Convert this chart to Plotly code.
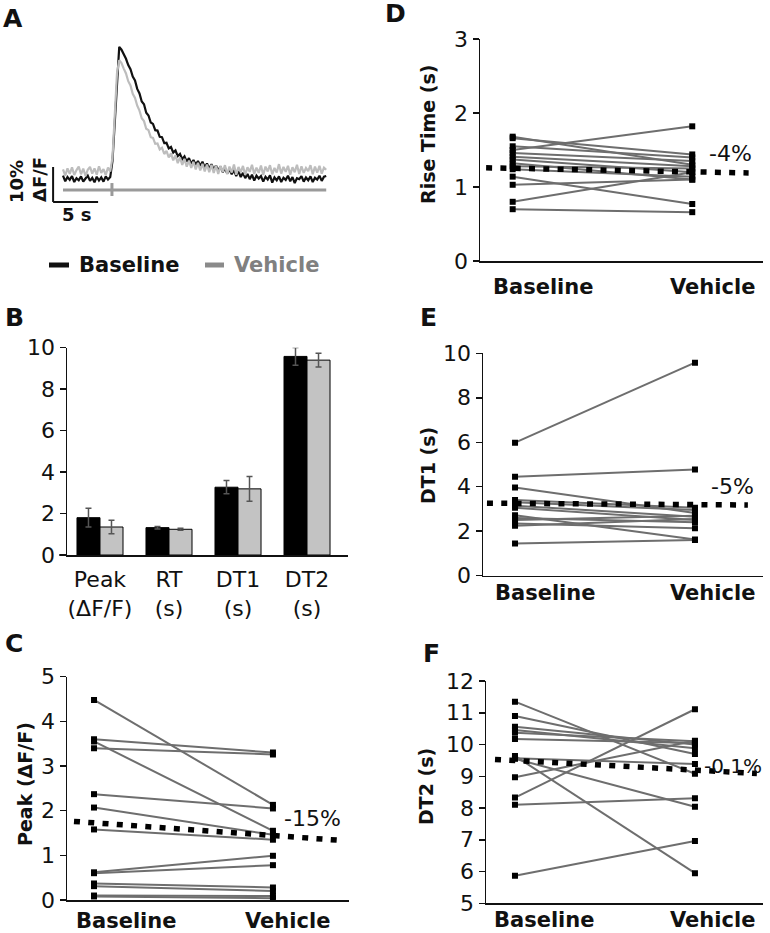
import numpy as np
import plotly.graph_objects as go

W, H = 770, 933
FONT = "DejaVu Sans"
INK = "#111111"

# ---------------- Panel A : example transients (% dF/F, sampled every 0.25 s) -------------
trace_dt = 0.25
baseline_trace = [-0.2, -1.8, -0.6, -1.4, -0.3, -2.0, -0.9, -1.5, -0.4, -1.9, -1.0, -0.2, -1.7, -0.8,
                  -2.1, -0.5, -1.6, -0.7, -1.9, -0.4, -1.3, -0.6,
                  4.0, 15.0, 28.0, 36.6, 35.8, 34.6, 33.2, 31.4, 30.2, 28.1, 27.0, 24.6, 23.3, 21.0,
                  20.2, 17.8, 17.0, 15.0, 14.6, 12.8, 12.7, 10.9, 10.8, 9.1, 9.2, 7.6, 8.0, 6.4,
                  7.0, 5.4, 6.0, 4.5, 5.3, 3.8, 4.8, 3.2, 4.3, 2.9, 4.0, 2.6, 3.8, 2.2, 3.3, 1.8,
                  3.1, 1.5, 2.7, 1.3, 2.4, 0.8, 2.0, 0.4, 1.6, 0.2, 1.4, -0.3, 1.1, -0.6, 0.6, -0.9,
                  0.3, -1.2, 0.1, -1.6, -0.2, -1.0, -0.3, -1.9, -0.5, -1.3, -0.1, -2.2, -0.7, -1.5,
                  -0.4, -2.0, -0.8, -1.4, -0.2, -1.8, -0.6, -2.3, -0.9, -1.2, -0.3, -1.9, -0.7, -1.5,
                  -0.4, -2.0, -0.8, -1.3, -0.2, -1.7, -0.5, -0.3]
vehicle_trace = [1.6, -0.2, 1.9, 0.3, 2.2, 0.0, 1.4, 2.4, 0.2, 1.8, -0.3, 1.5, 2.3, 0.4, 1.9, 0.1,
                 2.5, 0.6, 1.7, 0.0, 2.1, 1.0,
                 5.0, 17.0, 29.0, 32.8, 32.0, 30.4, 29.0, 26.8, 25.6, 23.2, 22.0, 19.8, 18.4, 16.2,
                 15.4, 13.2, 12.8, 10.8, 10.6, 8.9, 9.0, 7.3, 7.8, 6.0, 6.9, 5.0, 6.2, 4.2, 5.6,
                 3.4, 5.0, 2.9, 4.6, 2.4, 4.1, 2.0, 3.8, 1.6, 3.5, 1.3, 3.2, 1.0, 3.0, 0.8, 2.9,
                 0.6, 2.7, 0.3, 2.6, 0.9, 2.8, 0.2, 2.4, 0.7, 3.0, 0.1, 2.3, 0.8, 2.6, 0.0, 2.2,
                 0.9, 2.9, 0.3, 2.1, 0.6, 2.7, 0.0, 2.4, 1.0, 2.8, 0.2, 2.0, 0.7, 3.1, 0.4, 2.3,
                 0.9, 2.6, 0.1, 2.2, 0.8, 2.9, 0.3, 2.5, 0.6, 2.0, 1.1, 2.8, 0.2, 2.4, 0.7, 2.6,
                 0.4, 2.1, 1.5]
stim_time = 5.44
scale_pct = 10
scale_sec = 5

# ---------------- Panel B : means +/- SEM -------------
categories = ["Peak<br>(ΔF/F)", "RT<br>(s)", "DT1<br>(s)", "DT2<br>(s)"]
bar_baseline = [1.80, 1.32, 3.27, 9.58]
bar_baseline_err = [0.45, 0.06, 0.32, 0.43]
bar_vehicle = [1.35, 1.24, 3.19, 9.40]
bar_vehicle_err = [0.33, 0.05, 0.60, 0.33]

# ---------------- Panels C-F : paired values -------------
conditions = ["Baseline", "Vehicle"]
peak_base = [4.48, 3.60, 3.40, 3.55, 2.37, 2.07, 1.58, 0.62, 0.60, 0.37, 0.31, 0.10, 0.08]
peak_veh = [2.13, 3.30, 3.26, 1.55, 2.05, 1.46, 1.35, 0.99, 0.78, 0.28, 0.20, 0.09, 0.04]
peak_trend = [1.76, 1.34]

rt_base = [1.68, 1.66, 1.55, 1.50, 1.46, 1.41, 1.37, 1.32, 1.28, 1.24, 1.14, 1.03, 0.80, 0.70]
rt_veh = [1.30, 1.44, 1.40, 1.82, 1.35, 1.28, 1.20, 1.10, 1.25, 1.14, 0.77, 1.10, 1.20, 0.66]
rt_trend = [1.26, 1.19]

dt1_base = [5.98, 4.45, 3.97, 3.40, 3.30, 3.15, 3.05, 2.72, 2.60, 2.50, 2.35, 2.25, 1.45]
dt1_veh = [9.58, 4.78, 2.82, 3.05, 2.95, 2.65, 2.50, 1.63, 2.40, 2.70, 2.13, 2.55, 1.60]
dt1_trend = [3.26, 3.18]

dt2_base = [11.35, 10.90, 10.56, 10.46, 10.37, 10.17, 9.64, 9.57, 9.55, 8.97, 8.33, 8.10, 5.87]
dt2_veh = [9.08, 9.70, 10.00, 9.88, 10.10, 10.05, 5.95, 9.39, 8.04, 10.12, 11.11, 8.31, 6.96]
dt2_trend = [9.53, 9.09]

pct_labels = ["-15%", "-4%", "-5%", "-0.1%"]


def dx(a, b):
    return [a / W, b / W]


def dy(top, bottom):
    return [1 - bottom / H, 1 - top / H]


def px(p):
    return p / W


def py(p):
    return 1 - p / H


fig = go.Figure()

# ---- Panel A traces
tb = np.arange(len(baseline_trace)) * trace_dt
tv = np.arange(len(vehicle_trace)) * trace_dt
fig.add_trace(go.Scatter(x=tb, y=baseline_trace, mode="lines", line=dict(color="#111111", width=2.2),
                         xaxis="x", yaxis="y", showlegend=False, hoverinfo="skip"))
fig.add_trace(go.Scatter(x=tv, y=vehicle_trace, mode="lines", line=dict(color="#bdbdbd", width=2.2),
                         xaxis="x", yaxis="y", showlegend=False, hoverinfo="skip"))

shapes = []
t_end = max(tb[-1], tv[-1])
# stimulus line + tick
shapes.append(dict(type="line", xref="x", yref="y", x0=0, x1=t_end, y0=-4.3, y1=-4.3,
                   line=dict(color="#9a9a9a", width=3)))
shapes.append(dict(type="line", xref="x", yref="y", x0=stim_time, x1=stim_time, y0=-2.3, y1=-6.0,
                   line=dict(color="#9a9a9a", width=3)))
# scale bar
sb_x0, sb_y0 = -1.1, -7.71
shapes.append(dict(type="line", xref="x", yref="y", x0=sb_x0, x1=sb_x0, y0=sb_y0, y1=sb_y0 + scale_pct,
                   line=dict(color="#111111", width=2)))
shapes.append(dict(type="line", xref="x", yref="y", x0=sb_x0, x1=sb_x0 + scale_sec, y0=sb_y0, y1=sb_y0,
                   line=dict(color="#111111", width=2)))
# legend dashes
shapes.append(dict(type="line", xref="paper", yref="paper", x0=px(49), x1=px(69), y0=py(265), y1=py(265),
                   line=dict(color="#111111", width=5)))
shapes.append(dict(type="line", xref="paper", yref="paper", x0=px(205), x1=px(224), y0=py(265), y1=py(265),
                   line=dict(color="#8a8a8a", width=5)))
# small left overhang of the bar-chart baseline
shapes.append(dict(type="line", xref="paper", yref="paper", x0=px(59), x1=px(67), y0=py(555), y1=py(555),
                   line=dict(color="#111111", width=1.5)))

# ---- Panel B bars
fig.add_trace(go.Bar(x=categories, y=bar_baseline, marker=dict(color="#000000", line=dict(color="#000", width=1)),
                     error_y=dict(type="data", array=bar_baseline_err, color="#555555", thickness=1.5, width=3),
                     xaxis="x2", yaxis="y2", showlegend=False, hoverinfo="skip"))
fig.add_trace(go.Bar(x=categories, y=bar_vehicle, marker=dict(color="#c3c3c3", line=dict(color="#000", width=1)),
                     error_y=dict(type="data", array=bar_vehicle_err, color="#555555", thickness=1.5, width=3),
                     xaxis="x2", yaxis="y2", showlegend=False, hoverinfo="skip"))

# ---- Panels C-F paired lines
panels = [
    ("x3", "y3", peak_base, peak_veh, peak_trend, (-0.112, 1.363)),
    ("x4", "y4", rt_base, rt_veh, rt_trend, (-0.148, 1.314)),
    ("x5", "y5", dt1_base, dt1_veh, dt1_trend, (-0.156, 1.294)),
    ("x6", "y6", dt2_base, dt2_veh, dt2_trend, (-0.111, 1.344)),
]
for xa, ya, b, v, trend, ext in panels:
    xs, ys = [], []
    for bi, vi in zip(b, v):
        xs += [0, 1, None]
        ys += [bi, vi, None]
    fig.add_trace(go.Scatter(x=xs, y=ys, mode="lines+markers",
                             line=dict(color="#6e6e6e", width=2),
                             marker=dict(symbol="square", size=6, color="#000000"),
                             xaxis=xa, yaxis=ya, showlegend=False, hoverinfo="skip"))
    fig.add_trace(go.Scatter(x=list(ext), y=trend, mode="lines",
                             line=dict(color="#000000", width=5.5, dash="6px,8.3px"),
                             xaxis=xa, yaxis=ya, showlegend=False, hoverinfo="skip"))

# ---- axes
tickfont = dict(family=FONT, size=22, color=INK)
common_y = dict(showline=True, linecolor="#111", linewidth=1.5, ticks="outside", ticklen=6,
                tickcolor="#111", tickwidth=1.5, showgrid=False, zeroline=False, tickfont=tickfont,
                automargin=False)
common_x_pair = dict(showline=True, linecolor="#111", linewidth=1.5, showticklabels=False, ticks="",
                     showgrid=False, zeroline=False, automargin=False)

layout = dict(
    width=W, height=H, autosize=False,
    margin=dict(l=0, r=0, t=0, b=0, pad=0, autoexpand=False),
    paper_bgcolor="white", plot_bgcolor="rgba(0,0,0,0)",
    barmode="group", bargap=0.333, bargroupgap=0,
    xaxis=dict(domain=dx(45, 330), range=[-2.0, 29.67], visible=False, automargin=False),
    yaxis=dict(domain=dy(40, 225), range=[-14.29, 38.57], visible=False, automargin=False),
    xaxis2=dict(domain=dx(67, 348), range=[-0.478, 3.594], anchor="y2", type="category",
                showline=True, linecolor="#111", linewidth=1.5, ticks="", showgrid=False,
                tickfont=tickfont, ticklabelstandoff=4, automargin=False),
    yaxis2=dict(domain=dy(347.7, 555), range=[0, 10], anchor="x2", tickvals=[0, 2, 4, 6, 8, 10], **common_y),
    xaxis3=dict(domain=dx(67, 349), range=[-0.151, 1.425], anchor="y3", **common_x_pair),
    yaxis3=dict(domain=dy(676.7, 900), range=[0, 5], anchor="x3", tickvals=[0, 1, 2, 3, 4, 5], **common_y),
    xaxis4=dict(domain=dx(480, 763), range=[-0.182, 1.394], anchor="y4", **common_x_pair),
    yaxis4=dict(domain=dy(39, 261), range=[0, 3], anchor="x4", tickvals=[0, 1, 2, 3], **common_y),
    xaxis5=dict(domain=dx(483, 763), range=[-0.178, 1.378], anchor="y5", **common_x_pair),
    yaxis5=dict(domain=dy(353.3, 575.7), range=[0, 10], anchor="x5", tickvals=[0, 2, 4, 6, 8, 10], **common_y),
    xaxis6=dict(domain=dx(486, 763), range=[-0.161, 1.378], anchor="y6", **common_x_pair),
    yaxis6=dict(domain=dy(681, 903.3), range=[5, 12], anchor="x6", tickvals=list(range(5, 13)), **common_y),
    shapes=shapes,
)
fig.update_layout(**layout)

ann = []


def text(s, x, y, size, bold=False, color=INK, angle=0, xanchor="center"):
    ann.append(dict(text=f"<b>{s}</b>" if bold else s, x=px(x), y=py(y), xref="paper", yref="paper",
                    showarrow=False, xanchor=xanchor, yanchor="middle", textangle=angle,
                    font=dict(family=FONT, size=size, color=color)))


# panel letters
for letter, (lx, ly) in zip("ABCDEF", [(13, 18), (14, 317), (14, 643), (395, 14), (428, 318), (431, 653)]):
    text(letter, lx, ly, 25, bold=True)

# panel A texts
text("10%", 17, 182, 18, bold=True, angle=-90)
text("ΔF/F", 40, 180, 18, bold=True, angle=-90)
text("5 s", 77, 214, 18, bold=True)
text(conditions[0], 77, 265, 21, bold=True, xanchor="left")
text(conditions[1], 232, 265, 21, bold=True, color="#808080", xanchor="left")

# axis titles
text("Peak (ΔF/F)", 25, 784, 19, bold=True, angle=-90)
text("Rise Time (s)", 428, 135, 19, bold=True, angle=-90)
text("DT1 (s)", 428, 466, 19, bold=True, angle=-90)
text("DT2 (s)", 426, 786, 19, bold=True, angle=-90)

# condition labels
for (bxp, vxp, yp) in [(126, 287, 921), (543, 712, 287), (545, 712, 593), (544, 712, 920)]:
    text(conditions[0], bxp, yp, 21, bold=True)
    text(conditions[1], vxp, yp, 21, bold=True)

# percent change labels
for s, (lx, ly), sz in zip(pct_labels, [(312, 818), (730, 154), (732, 486), (733, 766)], [22, 22, 22, 20]):
    text(s, lx, ly, sz)

fig.update_layout(annotations=ann)
fig.write_html("out.html",
               config={"displayModeBar": False, "staticPlot": True},
               post_script="document.body.style.margin='0';document.body.style.padding='0';"
                           "document.documentElement.style.overflow='hidden';")
